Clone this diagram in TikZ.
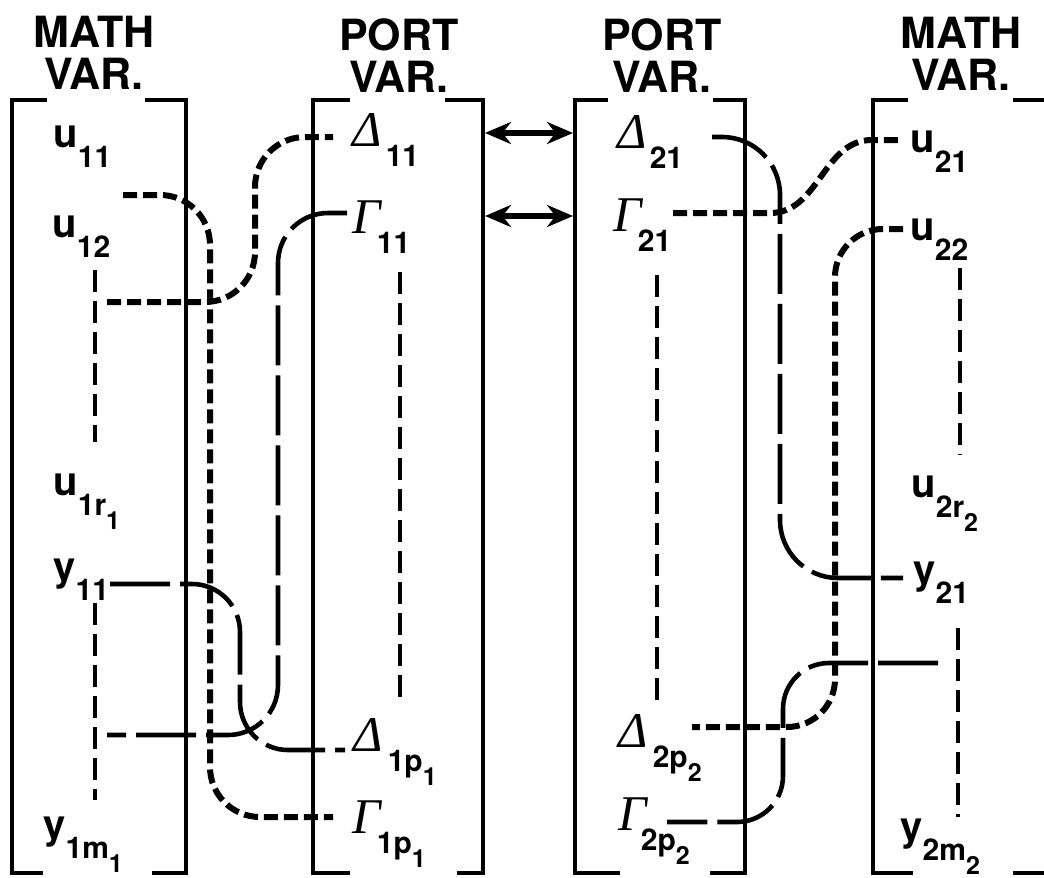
\documentclass[tikz,border=0pt]{standalone}
\usepackage{fontspec}
\setsansfont{TeX Gyre Heros}
\newfontfamily\greekfont{Liberation Serif}
\usetikzlibrary{arrows.meta}

\newcommand{\hdfont}{\sffamily\bfseries\fontsize{21.5}{21}\selectfont}
\newcommand{\vfont}{\sffamily\bfseries\fontsize{20}{20}\selectfont}
\newcommand{\sbfont}{\sffamily\bfseries\upshape\fontsize{15}{15}\selectfont}
\newcommand{\ssbfont}{\sffamily\bfseries\upshape\fontsize{12.5}{12.5}\selectfont}
\newcommand{\gfont}{\greekfont\itshape\fontsize{25}{25}\selectfont}
\newcommand{\lsub}[1]{\raisebox{-10pt}{\sbfont #1}}
\newcommand{\lsubsub}[1]{\raisebox{-7pt}{\ssbfont #1}}

\begin{document}
\begin{tikzpicture}[x=0.5pt, y=-0.5pt,
    frame/.style={line width=2.4pt},
    col/.style={line width=2pt, dash pattern=on 11pt off 4.5pt},
    thickdash/.style={line width=3pt, dash pattern=on 7pt off 3pt},
    longdash/.style={line width=2.3pt, dash pattern=on 30pt off 5pt},
    link/.style={{Stealth[length=13pt,width=11pt]}-{Stealth[length=13pt,width=11pt]}, line width=2.6pt},
    head/.style={font=\hdfont, align=center, inner sep=0pt, anchor=north},
    lbl/.style={inner sep=0pt, anchor=base west}
]
\useasboundingbox (0,0) rectangle (1044,878);

% brackets
\draw[frame] (47,100) -- (12,100) -- (12,873) -- (43,873);
\draw[frame] (145,100) -- (186,100) -- (186,873) -- (152,873);
\draw[frame] (350,100) -- (313,100) -- (313,873) -- (350,873);
\draw[frame] (445,100) -- (483,100) -- (483,873) -- (457,873);
\draw[frame] (608,100) -- (575,100) -- (575,873) -- (620,873);
\draw[frame] (713,100) -- (745,100) -- (745,873) -- (710,873);
\draw[frame] (908,100) -- (873,100) -- (873,873) -- (913,873);
\draw[frame] (1013,100) -- (1050,100);
\draw[frame] (1013,873) -- (1050,873);

% headings
\node[head] (hmath1) at (94,16) {MATH\\VAR.};
\node[head] (hport1) at (399,18) {PORT\\VAR.};
\node[head] (hport2) at (662,18) {PORT\\VAR.};
\node[head] (hmath2) at (961,17) {MATH\\VAR.};

% left math variables
\node[lbl] (u11) at (53,147) {\vfont u\lsub{11}};
\node[lbl] (u12) at (52,237) {\vfont u\lsub{12}};
\node[lbl] (u1r) at (53,495) {\vfont u\lsub{1r\lsubsub{1}}};
\node[lbl] (y11) at (53,580) {\vfont y\lsub{11}};
\node[lbl] (y1m) at (43,838) {\vfont y\lsub{1m\lsubsub{1}}};

% left port variables
\node[lbl] (d11) at (352,146) {\gfont Δ\kern2pt\lsub{11}};
\node[lbl] (g11) at (352,233) {\gfont Γ\kern-2pt\lsub{11}};
\node[lbl] (d1p) at (353,751) {\gfont Δ\kern2.5pt\lsub{1p\lsubsub{1}}};
\node[lbl] (g1p) at (352,833) {\gfont Γ\kern-2pt\lsub{1p\lsubsub{1}}};

% right port variables
\node[lbl] (d21) at (617,148) {\gfont Δ\kern1.5pt\lsub{21}};
\node[lbl] (g21) at (613,231) {\gfont Γ\kern-2pt\lsub{21}};
\node[lbl] (d2p) at (618,747) {\gfont Δ\kern2.5pt\lsub{2p\lsubsub{2}}};
\node[lbl] (g2p) at (618,830) {\gfont Γ\kern-3pt\lsub{2p\lsubsub{2}}};

% right math variables
\node[lbl] (u21) at (910,152) {\vfont u\lsub{21}};
\node[lbl] (u22) at (910,240) {\vfont u\lsub{22}};
\node[lbl] (u2r) at (911,497) {\vfont u\lsub{2r\lsubsub{2}}};
\node[lbl] (y21) at (913,583) {\vfont y\lsub{21}};
\node[lbl] (y2m) at (900,840) {\vfont y\lsub{2m\lsubsub{2}}};

% columns of further variables
\coordinate (cu1t) at (95,270);  \coordinate (cu1b) at (95,442);
\coordinate (cy1t) at (95,603);  \coordinate (cy1b) at (95,800);
\coordinate (cp1t) at (400,272); \coordinate (cp1b) at (400,705);
\coordinate (cp2t) at (657,275); \coordinate (cp2b) at (657,702);
\coordinate (cu2t) at (960,268); \coordinate (cu2b) at (960,455);
\coordinate (cy2t) at (958,628); \coordinate (cy2b) at (958,817);
\draw[col] (cu1t) -- (cu1b);
\draw[col] (cy1t) -- (cy1b);
\draw[col] (cp1t) -- (cp1b);
\draw[col] (cp2t) -- (cp2b);
\draw[col] (cu2t) -- (cu2b);
\draw[col] (cy2t) -- (cy2b);

% port connections
\coordinate (a1l) at (485,133); \coordinate (a1r) at (573,133);
\coordinate (a2l) at (485,216); \coordinate (a2r) at (573,216);
\draw[link] (a1l) -- (a1r);
\draw[link] (a2l) -- (a2r);

% left wiring
\coordinate (c1a) at (123,195); \coordinate (c1b) at (333,817);
\coordinate (c2a) at (107,302); \coordinate (c2b) at (333,137);
\coordinate (c3a) at (347,213); \coordinate (c3b) at (107,735);
\coordinate (c4a) at (110,584); \coordinate (c4b) at (345,750);
\draw[thickdash, rounded corners=25pt] (c1a) -| (210,817) -- (c1b);
\draw[thickdash, rounded corners=25pt] (c2a) -| (255,137) -- (c2b);
\draw[longdash, rounded corners=25pt] (c3a) -| (278,735) -- (c3b);
\draw[longdash, rounded corners=24pt] (c4a) -| (240,750) -- (c4b);

% right wiring
\coordinate (c5a) at (712,137); \coordinate (c5b) at (903,578);
\coordinate (c6a) at (673,213); \coordinate (c6b) at (902,140);
\coordinate (c7a) at (903,229); \coordinate (c7b) at (692,727);
\coordinate (c8a) at (938,663); \coordinate (c8b) at (667,822);
\draw[longdash, rounded corners=29pt] (c5a) -| (780,578) -- (c5b);
\draw[thickdash] (c6a) -- (770,213) to[out=0,in=180] (872,140) -- (c6b);
\draw[thickdash, rounded corners=24pt] (c7a) -| (835,727) -- (c7b);
\draw[longdash, rounded corners=23pt] (c8a) -| (783,822) -- (c8b);

\end{tikzpicture}
\end{document}
